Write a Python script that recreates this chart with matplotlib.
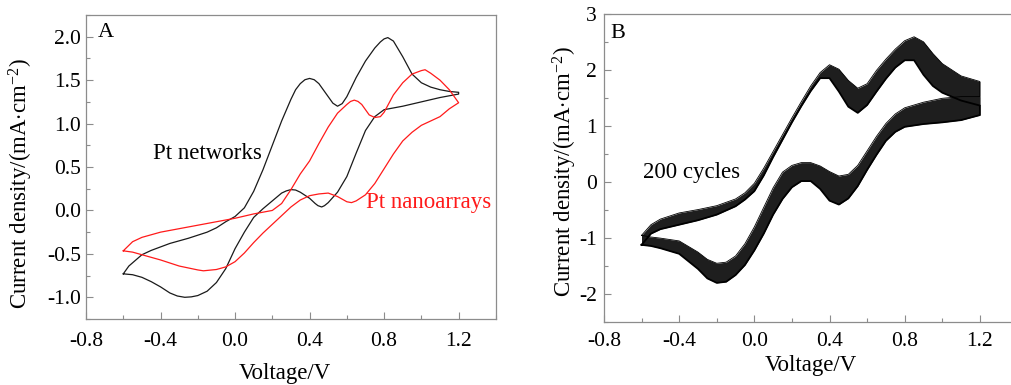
import matplotlib
matplotlib.use("Agg")
import matplotlib.pyplot as plt
from matplotlib.ticker import MultipleLocator, FormatStrFormatter

plt.rcParams['font.family'] = ['Liberation Serif', 'DejaVu Serif']
plt.rcParams['mathtext.fontset'] = 'custom'
plt.rcParams['mathtext.rm'] = 'Liberation Serif'
plt.rcParams['mathtext.it'] = 'Liberation Serif:italic'
plt.rcParams['axes.unicode_minus'] = False

# ---- panel A: Pt networks (black) and Pt nanoarrays (red) ----
net_fwd_v = [-0.6, -0.57, -0.5, -0.45, -0.4, -0.35, -0.3, -0.25, -0.2, -0.15, -0.1, -0.05, 0.0,
             0.05, 0.1, 0.15, 0.2, 0.25, 0.3, 0.325, 0.35, 0.375, 0.4, 0.425, 0.45, 0.5, 0.525, 0.55,
             0.575, 0.6, 0.65, 0.7, 0.75, 0.78, 0.8, 0.82, 0.85, 0.9, 0.95, 1.0, 1.05, 1.1, 1.15, 1.2]
net_fwd_j = [-0.73, -0.64, -0.51, -0.46, -0.42, -0.38, -0.35, -0.32, -0.285, -0.25, -0.20, -0.13, -0.07,
             0.03, 0.22, 0.47, 0.75, 1.03, 1.28, 1.39, 1.46, 1.505, 1.52, 1.505, 1.46, 1.31, 1.235, 1.20,
             1.23, 1.31, 1.53, 1.72, 1.87, 1.94, 1.975, 1.99, 1.95, 1.77, 1.57, 1.47, 1.42, 1.39, 1.37, 1.36]
net_rev_v = [1.2, 1.1, 1.0, 0.9, 0.8, 0.75, 0.7, 0.65, 0.6, 0.55, 0.5, 0.48, 0.465, 0.445, 0.43, 0.4,
             0.35, 0.325, 0.3, 0.275, 0.25, 0.2, 0.15, 0.1, 0.05, 0.0, -0.05, -0.1, -0.15, -0.2, -0.235,
             -0.27, -0.31, -0.35, -0.4, -0.45, -0.5, -0.55, -0.6]
net_rev_j = [1.34, 1.30, 1.25, 1.20, 1.16, 1.08, 0.92, 0.66, 0.39, 0.21, 0.09, 0.055, 0.04, 0.055, 0.08, 0.14,
             0.21, 0.235, 0.24, 0.225, 0.20, 0.11, 0.02, -0.08, -0.25, -0.44, -0.67, -0.83, -0.93, -0.98, -0.995,
             -1.00, -0.985, -0.95, -0.88, -0.82, -0.77, -0.74, -0.73]

arr_fwd_v = [-0.6, -0.55, -0.5, -0.45, -0.4, -0.3, -0.2, -0.1, 0.0, 0.1, 0.2, 0.25, 0.3, 0.35, 0.4,
             0.45, 0.5, 0.55, 0.6, 0.62, 0.64, 0.66, 0.68, 0.72, 0.75, 0.78, 0.8, 0.85, 0.9, 0.95, 1.0,
             1.02, 1.05, 1.1, 1.15, 1.2]
arr_fwd_j = [-0.465, -0.36, -0.31, -0.28, -0.25, -0.21, -0.17, -0.13, -0.09, -0.04, 0.00, 0.08, 0.24, 0.42, 0.57,
             0.77, 0.96, 1.12, 1.22, 1.255, 1.27, 1.255, 1.22, 1.10, 1.07, 1.08, 1.13, 1.33, 1.47, 1.57, 1.61,
             1.62, 1.58, 1.50, 1.39, 1.24]
arr_rev_v = [1.2, 1.15, 1.1, 1.05, 1.0, 0.95, 0.9, 0.85, 0.8, 0.75, 0.7, 0.65, 0.625, 0.6, 0.55, 0.5,
             0.45, 0.4, 0.35, 0.3, 0.25, 0.2, 0.15, 0.1, 0.05, 0.0, -0.05, -0.1, -0.17, -0.2, -0.3, -0.4,
             -0.5, -0.55, -0.6]
arr_rev_j = [1.24, 1.17, 1.08, 1.03, 0.98, 0.90, 0.80, 0.65, 0.48, 0.31, 0.18, 0.11, 0.09, 0.10, 0.16, 0.20,
             0.19, 0.17, 0.12, 0.04, -0.06, -0.16, -0.26, -0.37, -0.49, -0.59, -0.65, -0.68, -0.695, -0.685, -0.64, -0.57,
             -0.51, -0.48, -0.465]

# ---- panel B: 200 cycles, first (outer) and last (inner) cycle ----
cyc_fwd_v = [-0.6, -0.55, -0.5, -0.4, -0.3, -0.2, -0.1, -0.05, 0.0, 0.05, 0.1, 0.15, 0.2, 0.25, 0.3,
             0.35, 0.4, 0.45, 0.5, 0.55, 0.6, 0.65, 0.7, 0.75, 0.8, 0.85, 0.9, 0.95, 1.0, 1.1, 1.2]
first_fwd_j = [-0.95, -0.76, -0.66, -0.55, -0.49, -0.42, -0.30, -0.19, -0.02, 0.25, 0.55, 0.85, 1.15, 1.44, 1.72,
               1.96, 2.10, 2.02, 1.82, 1.68, 1.76, 2.00, 2.20, 2.38, 2.53, 2.60, 2.51, 2.30, 2.12, 1.90, 1.80]
last_fwd_j = [-1.12, -0.92, -0.84, -0.76, -0.68, -0.58, -0.43, -0.31, -0.16, 0.12, 0.45, 0.76, 1.07, 1.36, 1.63,
              1.86, 1.86, 1.62, 1.35, 1.24, 1.38, 1.62, 1.85, 2.05, 2.18, 2.18, 1.92, 1.72, 1.60, 1.46, 1.37]
cyc_rev_v = [1.2, 1.1, 1.0, 0.9, 0.8, 0.75, 0.7, 0.65, 0.6, 0.55, 0.5, 0.45, 0.4, 0.35, 0.3, 0.25,
             0.2, 0.15, 0.1, 0.05, 0.0, -0.05, -0.1, -0.15, -0.2, -0.25, -0.3, -0.4, -0.5, -0.55, -0.6]
first_rev_j = [1.53, 1.53, 1.50, 1.43, 1.33, 1.22, 1.05, 0.82, 0.56, 0.30, 0.14, 0.11, 0.19, 0.29, 0.35, 0.35,
               0.30, 0.18, -0.10, -0.45, -0.80, -1.10, -1.32, -1.43, -1.45, -1.38, -1.25, -1.05, -1.00, -0.98, -0.95]
last_rev_j = [1.20, 1.11, 1.07, 1.04, 0.99, 0.90, 0.74, 0.49, 0.22, -0.07, -0.29, -0.40, -0.33, -0.12, 0.02, 0.02,
              -0.09, -0.30, -0.58, -0.92, -1.22, -1.48, -1.66, -1.78, -1.80, -1.72, -1.55, -1.28, -1.18, -1.14, -1.12]

fig = plt.figure(figsize=(10.12, 3.85), dpi=100)
ax_a = fig.add_axes([0.085, 0.1714, 0.405, 0.7896])
ax_b = fig.add_axes([0.5968, 0.1636, 0.4086, 0.799])

spine_col = '#8c8c8c'
ylab = 'Current density/(mA$\\cdot$cm$^{-2}$)'
for ax in [ax_a, ax_b]:
    for s in ax.spines.values():
        s.set_color(spine_col)
        s.set_linewidth(0.9)
    ax.tick_params(which='both', direction='in', top=False, right=False, color=spine_col, labelsize=15.5)
    ax.tick_params(which='major', length=5, width=0.8)
    ax.tick_params(which='minor', length=3, width=0.8)
    ax.set_xlim(-0.8, 1.4)
    ax.xaxis.set_major_locator(MultipleLocator(0.4))
    ax.xaxis.set_minor_locator(MultipleLocator(0.2))
    ax.xaxis.set_major_formatter(FormatStrFormatter('%.1f'))
    ax.set_xlabel('Voltage/V', fontsize=16.5)
    ax.set_ylabel(ylab, fontsize=16.5)

# panel A
ax_a.plot(net_fwd_v + net_rev_v, net_fwd_j + net_rev_j, color='#1a1a1a', lw=0.9, solid_joinstyle='round')
ax_a.plot(arr_fwd_v + arr_rev_v, arr_fwd_j + arr_rev_j, color='#ff1a1a', lw=0.9, solid_joinstyle='round')
ax_a.set_ylim(-1.25, 2.25)
ax_a.yaxis.set_major_locator(MultipleLocator(0.5))
ax_a.yaxis.set_minor_locator(MultipleLocator(0.25))
ax_a.yaxis.set_major_formatter(FormatStrFormatter('%.1f'))
ax_a.tick_params(axis='x', pad=9)
ax_a.tick_params(axis='y', pad=3.5)
ax_a.text(0.049, 0.944, 'A', transform=ax_a.transAxes, fontsize=16, ha='center', va='center')
ax_a.text(-0.147, 0.65, 'Pt networks', fontsize=16.5, ha='center', va='center', color='black')
ax_a.text(1.04, 0.092, 'Pt nanoarrays', fontsize=16.5, ha='center', va='center', color='#ff1a1a')
ax_a.xaxis.set_label_coords(0.484, -0.144)
ax_a.yaxis.set_label_coords(-0.125, 0.444)

# panel B
ax_b.fill_between(cyc_fwd_v, first_fwd_j, last_fwd_j, color='#1e1e1e', lw=0)
ax_b.fill_between(cyc_rev_v, first_rev_j, last_rev_j, color='#1e1e1e', lw=0)
ax_b.plot(cyc_fwd_v + cyc_rev_v, first_fwd_j + first_rev_j, color='black', lw=0.6)
ax_b.plot(cyc_fwd_v + cyc_rev_v, last_fwd_j + last_rev_j, color='black', lw=1.3)
ax_b.set_ylim(-2.5, 3)
ax_b.yaxis.set_major_locator(MultipleLocator(1))
ax_b.yaxis.set_minor_locator(MultipleLocator(0.5))
ax_b.tick_params(axis='x', pad=7)
ax_b.tick_params(axis='y', pad=5)
ax_b.text(0.034, 0.939, 'B', transform=ax_b.transAxes, fontsize=16, ha='center', va='center')
ax_b.text(-0.336, 0.17, '200 cycles', fontsize=16.5, ha='center', va='center')
ax_b.xaxis.set_label_coords(0.5, -0.108)
ax_b.yaxis.set_label_coords(-0.06, 0.49)

plt.savefig('out.png', dpi=100)
